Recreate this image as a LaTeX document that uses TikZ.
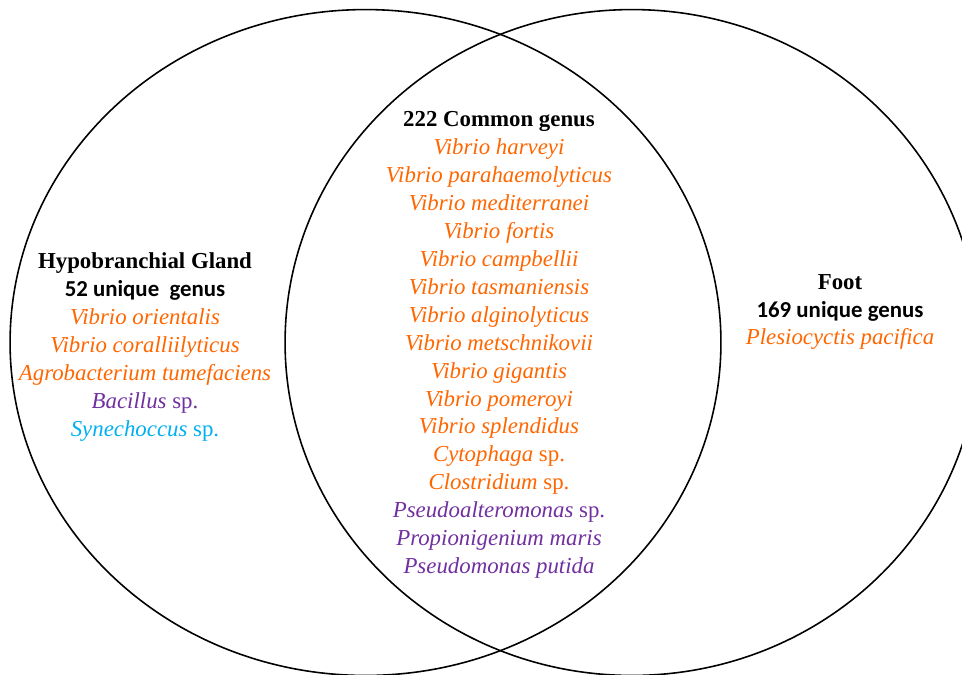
\documentclass[tikz,border=0pt]{standalone}
\usepackage{fontspec}
\setmainfont{Liberation Serif}
\newfontfamily\calibri{Carlito}
\usetikzlibrary{positioning,shapes.geometric}
\definecolor{sporange}{RGB}{255,102,0}
\definecolor{sppurple}{RGB}{112,48,160}
\definecolor{spcyan}{RGB}{0,176,240}
\tikzset{
  venn/.style={draw,ellipse,line width=0.9pt,inner sep=0pt},
  taxa/.style={align=center,inner sep=0pt,font=\fontsize{13}{15.9}\selectfont},
  heading/.style={font=\bfseries},
  counts/.style={font=\calibri\bfseries\fontsize{12.5}{15.9}\selectfont}
}
\newcommand{\orsp}[1]{\textcolor{sporange}{\textit{#1}}}
\newcommand{\pusp}[1]{\textcolor{sppurple}{\textit{#1}}}
\begin{document}
\begin{tikzpicture}[x=0.02cm,y=-0.02cm]
\useasboundingbox (0,0) rectangle (962,674);
% the two sampled tissues
\node[venn,minimum width=14.22cm,minimum height=13.32cm] (gland) at (365.5,342.5) {};
\node[venn,minimum width=13.88cm,minimum height=13.32cm] (foot) at (632,342.5) {};
% shared genera
\node[taxa] (common) at (499,345) {%
  {\bfseries 222 Common genus}\\
  \orsp{Vibrio harveyi}\\
  \orsp{Vibrio parahaemolyticus}\\
  \orsp{Vibrio mediterranei}\\
  \orsp{Vibrio fortis}\\
  \orsp{Vibrio campbellii}\\
  \orsp{Vibrio tasmaniensis}\\
  \orsp{Vibrio alginolyticus}\\
  \orsp{Vibrio metschnikovii}\\
  \orsp{Vibrio gigantis}\\
  \orsp{Vibrio pomeroyi}\\
  \orsp{Vibrio splendidus}\\
  \textcolor{sporange}{\textit{Cytophaga} sp.}\\
  \textcolor{sporange}{\textit{Clostridium} sp.}\\
  \textcolor{sppurple}{\textit{Pseudoalteromonas} sp.}\\
  \pusp{Propionigenium maris}\\
  \pusp{Pseudomonas putida}};
% hypobranchial gland only
\node[taxa] (glandonly) at (145,347) {%
  {\bfseries Hypobranchial Gland}\\
  {\calibri\bfseries 52 unique\ \ genus}\\
  \orsp{Vibrio orientalis}\\
  \orsp{Vibrio coralliilyticus}\\
  \orsp{Agrobacterium tumefaciens}\\
  \textcolor{sppurple}{\textit{Bacillus} sp.}\\
  \textcolor{spcyan}{\textit{Synechoccus} sp.}};
% foot only
\node[taxa] (footonly) at (840,312) {%
  {\bfseries Foot}\\
  {\calibri\bfseries 169 unique genus}\\
  \orsp{Plesiocyctis pacifica}};
\end{tikzpicture}
\end{document}
